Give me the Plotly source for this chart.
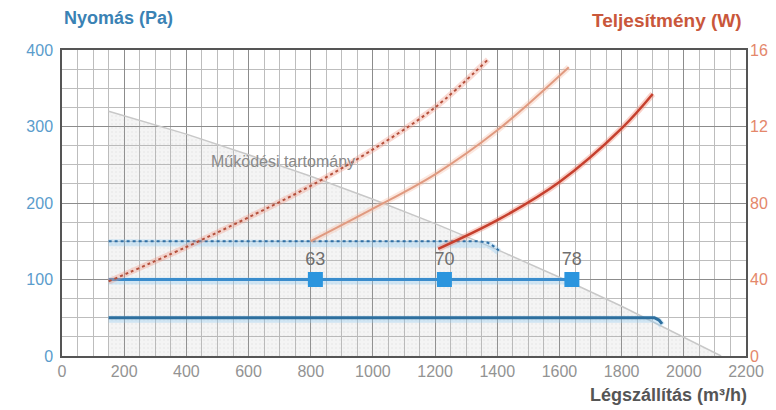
import plotly.graph_objects as go

# ---- data ----
# operating range boundary (Pa)
range_x = [150, 400, 600, 800, 1000, 1200, 1400, 1600, 1800, 2000, 2120]
range_y = [320, 290, 263, 235, 205, 173, 139, 103, 65, 25, 0]

# pressure lines (Pa)
p150_x = [150, 1340, 1370, 1390, 1405]
p150_y = [150, 150, 148, 143, 138]
p100_x = [150, 1640]
p100_y = [100, 100]
p50_x = [150, 1905, 1920, 1930]
p50_y = [50, 50, 47, 42]

# markers
mark_x = [815, 1230, 1640]
mark_y = [100, 100, 100]
mark_labels = ["63", "70", "78"]

# power curves (W)
w1_x = [150, 400, 600, 800, 1000, 1200, 1370]
w1_y = [39, 57, 72.5, 89, 108, 130, 155]
w2_x = [800, 1000, 1200, 1400, 1630]
w2_y = [60, 77, 95, 118, 151]
w3_x = [1210, 1400, 1600, 1800, 1900]
w3_y = [56, 71, 91, 119, 137]

x_ticks = list(range(0, 2201, 200))
y_ticks = [0, 100, 200, 300, 400]
y2_ticks = [0, 40, 80, 120, 160]

FONT = "Liberation Sans, Arial, sans-serif"

fig = go.Figure()

# operating range area
fig.add_trace(go.Scatter(
    x=[range_x[0]] + range_x, y=[0] + range_y,
    mode="lines", fill="toself",
    fillcolor="rgba(170,170,170,0.15)",
    fillpattern=dict(shape=".", fgcolor="rgba(150,150,150,0.22)",
                     bgcolor="rgba(175,175,175,0.14)", size=4, solidity=0.2),
    line=dict(color="rgba(0,0,0,0)", width=0),
    hoverinfo="skip", showlegend=False))
fig.add_trace(go.Scatter(x=range_x, y=range_y, mode="lines",
                         line=dict(color="#c8c8c8", width=1.5),
                         hoverinfo="skip", showlegend=False))

# glow under blue lines
for xs, ys in [(p150_x, p150_y), (p100_x, p100_y), (p50_x, p50_y)]:
    fig.add_trace(go.Scatter(x=xs, y=[v - 2 for v in ys], mode="lines",
                             line=dict(color="rgba(140,200,240,0.35)", width=7),
                             hoverinfo="skip", showlegend=False))

fig.add_trace(go.Scatter(x=p150_x, y=p150_y, mode="lines",
                         line=dict(color="#2f6fa5", width=2, dash="dot"),
                         showlegend=False))
fig.add_trace(go.Scatter(x=p100_x, y=p100_y, mode="lines",
                         line=dict(color="#3a8ccc", width=3),
                         showlegend=False))
fig.add_trace(go.Scatter(x=p50_x, y=p50_y, mode="lines",
                         line=dict(color="#2e6f9e", width=3),
                         showlegend=False))

fig.add_trace(go.Scatter(x=mark_x, y=mark_y, mode="markers+text",
                         text=mark_labels, textposition="top center",
                         textfont=dict(family=FONT, size=18, color="#6f6f6f"),
                         marker=dict(symbol="square", size=15, color="#2b95de"),
                         showlegend=False))

# power curves on right axis, with glow
for xs, ys, glow in [(w1_x, w1_y, "rgba(240,150,130,0.35)"),
                     (w2_x, w2_y, "rgba(245,185,160,0.35)"),
                     (w3_x, w3_y, "rgba(240,140,120,0.40)")]:
    fig.add_trace(go.Scatter(x=xs, y=ys, yaxis="y2", mode="lines",
                             line=dict(color=glow, width=6, shape="spline"),
                             hoverinfo="skip", showlegend=False))
fig.add_trace(go.Scatter(x=w1_x, y=w1_y, yaxis="y2", mode="lines",
                         line=dict(color="#b5503c", width=2, dash="dot", shape="spline"),
                         showlegend=False))
fig.add_trace(go.Scatter(x=w2_x, y=w2_y, yaxis="y2", mode="lines",
                         line=dict(color="#e09a80", width=2, shape="spline"),
                         showlegend=False))
fig.add_trace(go.Scatter(x=w3_x, y=w3_y, yaxis="y2", mode="lines",
                         line=dict(color="#c6402e", width=2.5, shape="spline"),
                         showlegend=False))

fig.update_layout(
    width=776, height=410,
    margin=dict(l=54, r=38, t=42, b=62),
    paper_bgcolor="white", plot_bgcolor="white",
    font=dict(family=FONT),
    xaxis=dict(range=[0, 2200], tickvals=x_ticks, ticktext=[str(v) for v in x_ticks],
               showgrid=True, gridcolor="#8c8c8c", gridwidth=1,
               minor=dict(dtick=50, showgrid=True, gridcolor="#bdbdbd", gridwidth=1),
               showline=True, linecolor="#555", linewidth=1.5, mirror=True,
               zeroline=False, ticks="", automargin=False,
               tickfont=dict(family=FONT, size=16, color="#939393")),
    yaxis=dict(range=[0, 400], tickvals=y_ticks,
               showgrid=True, gridcolor="#8c8c8c", gridwidth=1,
               minor=dict(dtick=25, showgrid=True, gridcolor="#bdbdbd", gridwidth=1),
               showline=True, linecolor="#555", linewidth=1.5, mirror=True,
               zeroline=False, ticks="", automargin=False, ticklabelstandoff=4,
               tickfont=dict(family=FONT, size=16, color="#5a9ccc")),
    yaxis2=dict(range=[0, 160], tickvals=y2_ticks, overlaying="y", side="right",
                showgrid=False, zeroline=False, showline=False, ticks="",
                automargin=False, ticklabelstandoff=3,
                tickfont=dict(family=FONT, size=16, color="#e4876b")),
    annotations=[
        dict(text="Nyomás (Pa)", xref="paper", yref="paper", x=0.0, y=1.105,
             xanchor="left", yanchor="middle", showarrow=False,
             font=dict(family=FONT, size=18, color="#3a82b4", weight="bold")),
        dict(text="Teljesítmény (W)", xref="paper", yref="paper", x=0.997, y=1.098,
             xanchor="right", yanchor="middle", showarrow=False,
             font=dict(family=FONT, size=19, color="#c9573b", weight="bold")),
        dict(text="Légszállítás (m³/h)", xref="paper", yref="paper", x=1.004, y=-0.128,
             xanchor="right", yanchor="middle", showarrow=False,
             font=dict(family=FONT, size=18, color="#555555", weight="bold")),
        dict(text="Működési tartomány", x=710, y=254, xref="x", yref="y",
             showarrow=False, font=dict(family=FONT, size=16, color="#8a8a8a")),
    ],
)

fig.write_html("out.html")
